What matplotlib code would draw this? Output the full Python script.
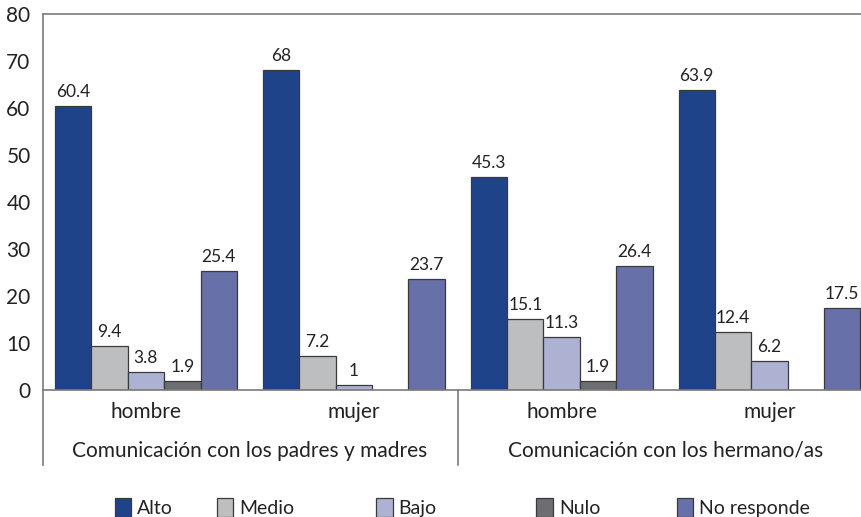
import numpy as np
import matplotlib.pyplot as plt

plt.rcParams['font.family'] = ['Lato', 'DejaVu Sans']

# Survey data: percentages per level of communication
groups = ['hombre', 'mujer', 'hombre', 'mujer']
sections = ['Comunicación con los padres y madres', 'Comunicación con los hermano/as']
series = ['Alto', 'Medio', 'Bajo', 'Nulo', 'No responde']
alto = [60.4, 68, 45.3, 63.9]
medio = [9.4, 7.2, 15.1, 12.4]
bajo = [3.8, 1, 11.3, 6.2]
nulo = [1.9, np.nan, 1.9, np.nan]
no_responde = [25.4, 23.7, 26.4, 17.5]

values = [alto, medio, bajo, nulo, no_responde]
colors = ['#1f4388', '#bcbec0', '#aeb2d2', '#6d6e71', '#6770a8']
axis_gray = '#7a7a7a'
text_col = '#222222'

fig = plt.figure(figsize=(8.61, 5.17), dpi=100)
ax = fig.add_axes([0.05, 0.2456, 0.95, 0.7273])

x = np.arange(len(groups))
width = 0.175
for i, (vals, col) in enumerate(zip(values, colors)):
    pos = x + (i - 2) * width
    ax.bar(pos, vals, width, color=col, edgecolor='#3a3a3a', linewidth=0.9)
    for p, v in zip(pos, vals):
        if np.isnan(v):
            continue
        ax.text(p, v + 1.3, f'{v:g}', ha='center', va='bottom',
                fontsize=12.5, color=text_col)

ax.set_ylim(0, 80)
ax.set_xlim(-0.495, 3.44)
ax.set_yticks(range(0, 81, 10))
ax.tick_params(axis='y', length=0, pad=9, labelsize=15, labelcolor=text_col)
ax.set_xticks([])

ax.spines['right'].set_visible(False)
ax.spines['left'].set_visible(False)
for side in ['top', 'bottom']:
    ax.spines[side].set_color(axis_gray)
    ax.spines[side].set_linewidth(1.2)

# left axis line runs down past the category labels
ax.plot([0, 0], [-0.2, 1], transform=ax.transAxes, color=axis_gray,
        lw=1.2, clip_on=False)
# separator between the two sections
trans = ax.get_xaxis_transform()
ax.plot([1.5, 1.5], [-0.2, 0], transform=trans, color=axis_gray,
        lw=1.2, clip_on=False)

for xi, g in zip(x, groups):
    ax.text(xi, -0.058, g, transform=trans, ha='center', va='center',
            fontsize=15, color=text_col)
for k, s in enumerate(sections):
    ax.text(0.5 + 2 * k, -0.162, s, transform=trans, ha='center',
            va='center', fontsize=15, color=text_col)

# legend entries spread along the bottom
legend_x = [0.133, 0.252, 0.437, 0.623, 0.786]
for name, col, lx in zip(series, colors, legend_x):
    h = plt.Rectangle((0, 0), 1, 1, facecolor=col, edgecolor='#3a3a3a', lw=0.9)
    fig.legend([h], [name], loc='center left', bbox_to_anchor=(lx, 0.018),
               frameon=False, fontsize=14, handlelength=0.85,
               handleheight=1.1, handletextpad=0.3, borderpad=0,
               borderaxespad=0, labelcolor=text_col)

fig.savefig('out.png', dpi=100)
